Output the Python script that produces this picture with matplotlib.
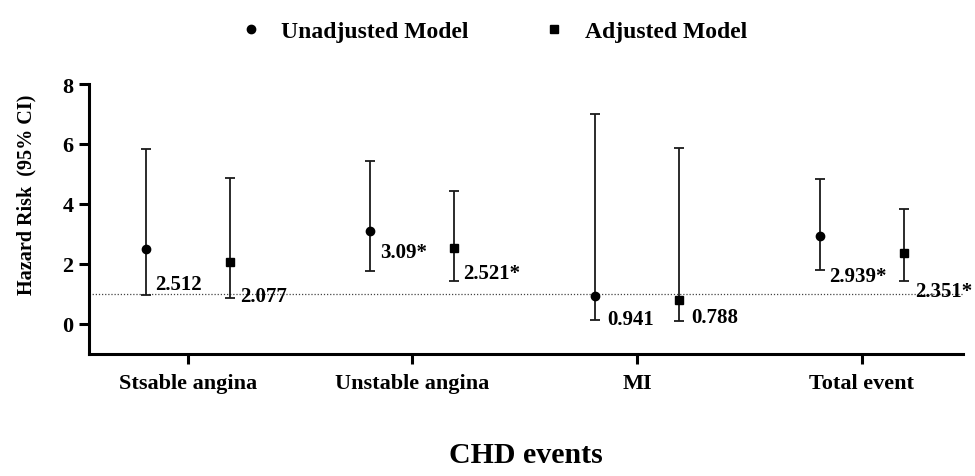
import numpy as np
import matplotlib.pyplot as plt
from matplotlib.lines import Line2D

categories = ["Stsable angina", "Unstable angina", "MI", "Total event"]

unadj_hr = [2.512, 3.09, 0.941, 2.939]
unadj_lo = [0.98, 1.77, 0.12, 1.80]
unadj_hi = [5.83, 5.43, 7.00, 4.83]
unadj_lab = ["2.512", "3.09*", "0.941", "2.939*"]

adj_hr = [2.077, 2.521, 0.788, 2.351]
adj_lo = [0.88, 1.43, 0.11, 1.43]
adj_hi = [4.87, 4.43, 5.87, 3.83]
adj_lab = ["2.077", "2.521*", "0.788", "2.351*"]

# label offsets in pixels (right, down) from each point
unadj_off = [(9, 35), (10, 21), (12, 23), (10, 40)]
adj_off = [(10, 34), (9, 25), (12, 17), (12, 38)]

plt.rcParams['font.family'] = ['Liberation Serif', 'DejaVu Serif']
plt.rcParams['font.weight'] = 'bold'

fig = plt.figure(figsize=(9.75, 4.77), dpi=100)
ax = fig.add_axes([0.0913, 0.2558, 0.896, 0.566])

x = np.arange(len(categories))
shift = 0.187
px = 0.72  # points per pixel

for xs, hr, lo, hi, mk, ms, labs, offs in [
        (x - shift, unadj_hr, unadj_lo, unadj_hi, 'o', 6, unadj_lab, unadj_off),
        (x + shift, adj_hr, adj_lo, adj_hi, 's', 5.5, adj_lab, adj_off)]:
    hr = np.array(hr)
    yerr = [hr - np.array(lo), np.array(hi) - hr]
    ax.errorbar(xs, hr, yerr=yerr, fmt=mk, color='black', ecolor='#1a1a1a',
                elinewidth=1.3, capsize=3.5, capthick=1.3, markersize=ms, zorder=3)
    for xi, yi, t, (dx, dy) in zip(xs, hr, labs, offs):
        ax.annotate(t, (xi, yi), xytext=(dx * px, -dy * px), textcoords='offset points',
                    ha='left', va='center', fontsize=15, fontweight='bold')

ax.axhline(1, color='#444444', lw=0.9, ls=(0, (1, 1.5)), zorder=1)

ax.set_xlim(-0.44, 3.45)
ax.set_ylim(-1, 8)
ax.set_yticks([0, 2, 4, 6, 8])
ax.set_xticks(x)
ax.set_xticklabels(categories)
ax.tick_params(axis='both', width=2.2, length=7, labelsize=16, pad=4)
ax.tick_params(axis='x', pad=7)
for s in ['top', 'right']:
    ax.spines[s].set_visible(False)
for s in ['left', 'bottom']:
    ax.spines[s].set_linewidth(2.2)
ax.spines['left'].set_bounds(-1, 8)

ax.set_ylabel("Hazard Risk  (95% CI)", fontsize=14.5, fontweight='bold')
ax.yaxis.set_label_coords(-0.06, 0.593)
ax.set_xlabel("CHD events", fontsize=21.5, fontweight='bold', labelpad=34)

handles = [Line2D([], [], marker='o', color='black', ls='none', markersize=6),
           Line2D([], [], marker='s', color='black', ls='none', markersize=5.5)]
fig.legend(handles, ["Unadjusted Model", "Adjusted Model"], loc='upper center',
           bbox_to_anchor=(0.503, 1.0), ncol=2, frameon=False,
           columnspacing=2.9, handletextpad=0.6, handlelength=1.4,
           prop={'weight': 'bold', 'size': 17})

fig.savefig("out.png", dpi=100)
